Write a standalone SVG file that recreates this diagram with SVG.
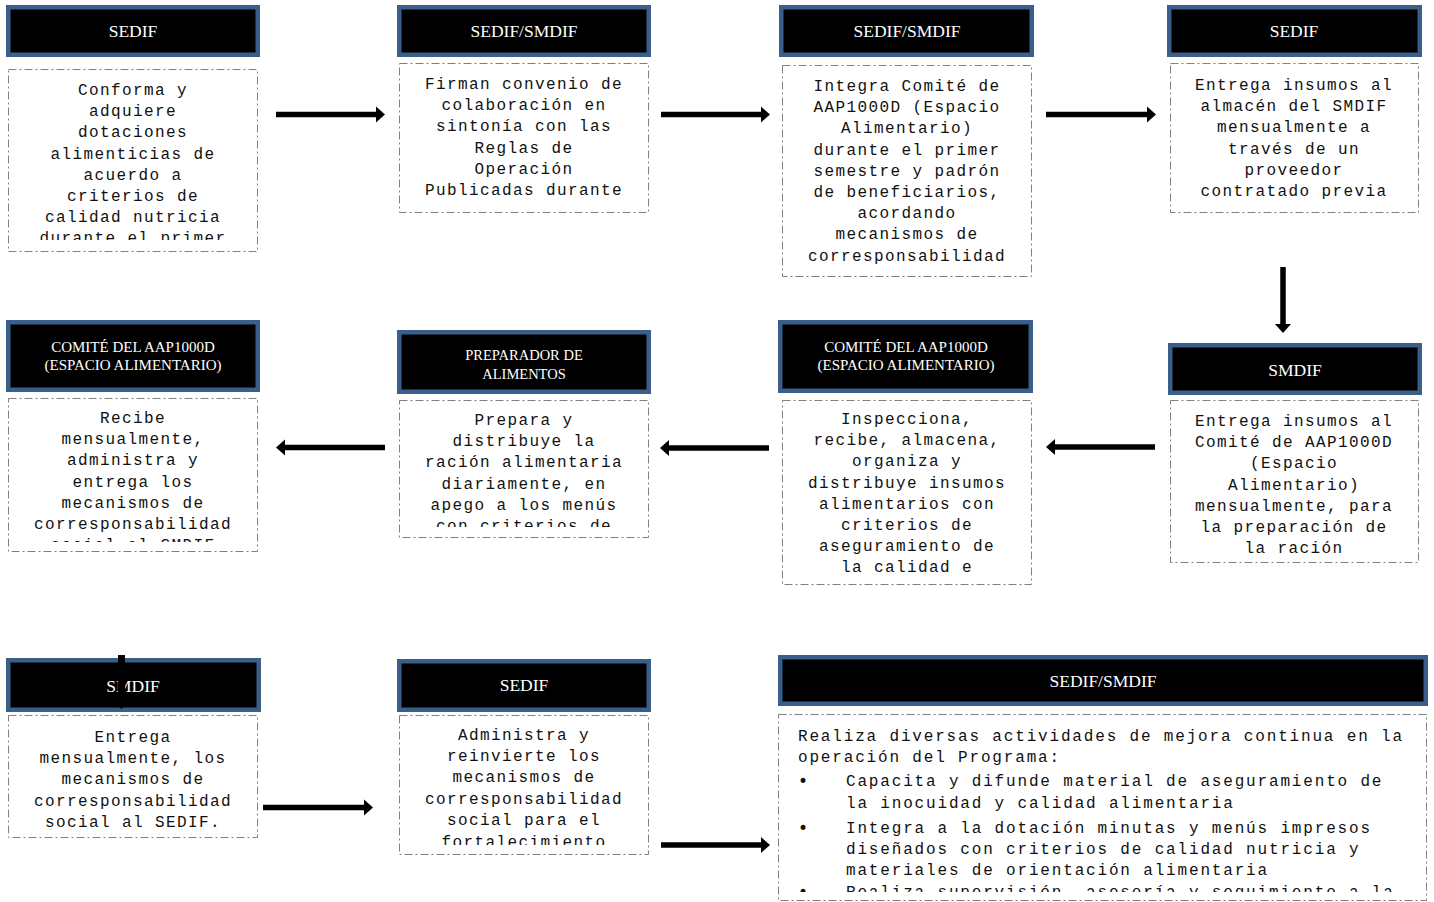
<svg xmlns="http://www.w3.org/2000/svg" width="1434" height="902" viewBox="0 0 1434 902">
<style>
.hd{fill:#000;stroke:#3A5F8B;stroke-width:4.5}
.bd{fill:#fff;stroke:#808080;stroke-width:1;stroke-dasharray:8 3 2 3}
.ht{font-family:"Liberation Serif",serif;fill:#fff;font-size:17.5px;text-anchor:middle}
.hs{font-size:15px}
.hp{font-size:14.5px}
.bt{font-family:"Liberation Mono",monospace;font-size:16px;letter-spacing:1.4px;fill:#111;text-anchor:middle}
.lt{font-family:"Liberation Mono",monospace;font-size:16px;letter-spacing:1.83px;fill:#111}
.bl{font-family:"DejaVu Sans",sans-serif;font-size:17px;letter-spacing:0}
.ar{stroke:#000;stroke-width:5.5;fill:none;marker-end:url(#ah)}
</style>
<defs>
<marker id="ah" markerUnits="userSpaceOnUse" markerWidth="10" markerHeight="16" refX="0" refY="8" orient="auto" overflow="visible">
<path d="M0,0 L9,8 L0,16 Z" fill="#000"/>
</marker>
<marker id="ahs" markerUnits="userSpaceOnUse" markerWidth="8" markerHeight="10" refX="0" refY="5" orient="auto" overflow="visible">
<path d="M0,0 L5,5 L0,10 Z" fill="#000"/>
</marker>
<clipPath id="c1"><rect x="8" y="69" width="250" height="171"/></clipPath>
<clipPath id="c5"><rect x="8" y="398" width="250" height="144"/></clipPath>
<clipPath id="c6"><rect x="399" y="400" width="250" height="127"/></clipPath>
<clipPath id="c10"><rect x="399" y="715" width="250" height="130"/></clipPath>
<clipPath id="c11"><rect x="778" y="714" width="649" height="178"/></clipPath>
</defs>
<rect width="1434" height="902" fill="#fff"/>

<g id="n1">
<rect class="hd" x="8.25" y="7.25" width="249.5" height="47.5"/>
<text class="ht" x="133" y="37">SEDIF</text>
<rect class="bd" x="8.5" y="69.5" width="249" height="182"/>
<text class="bt" clip-path="url(#c1)"><tspan x="133" y="95">Conforma y</tspan><tspan x="133" y="116.2">adquiere</tspan><tspan x="133" y="137.4">dotaciones</tspan><tspan x="133" y="158.6">alimenticias de</tspan><tspan x="133" y="179.8">acuerdo a</tspan><tspan x="133" y="201">criterios de</tspan><tspan x="133" y="222.2">calidad nutricia</tspan><tspan x="133" y="243.4">durante el primer</tspan></text>
</g>

<g id="n2">
<rect class="hd" x="399.25" y="7.25" width="249.5" height="47.5"/>
<text class="ht" x="524" y="37">SEDIF/SMDIF</text>
<rect class="bd" x="399.5" y="63.5" width="249" height="149"/>
<text class="bt"><tspan x="524" y="89">Firman convenio de</tspan><tspan x="524" y="110.2">colaboración en</tspan><tspan x="524" y="131.4">sintonía con las</tspan><tspan x="524" y="152.6">Reglas de</tspan><tspan x="524" y="173.8">Operación</tspan><tspan x="524" y="195">Publicadas durante</tspan></text>
</g>

<g id="n3">
<rect class="hd" x="781.25" y="7.25" width="250.5" height="47.5"/>
<text class="ht" x="907" y="37">SEDIF/SMDIF</text>
<rect class="bd" x="782.5" y="65.5" width="249" height="211"/>
<text class="bt"><tspan x="907" y="91">Integra Comité de</tspan><tspan x="907" y="112.2">AAP1000D (Espacio</tspan><tspan x="907" y="133.4">Alimentario)</tspan><tspan x="907" y="154.6">durante el primer</tspan><tspan x="907" y="175.8">semestre y padrón</tspan><tspan x="907" y="197">de beneficiarios,</tspan><tspan x="907" y="218.2">acordando</tspan><tspan x="907" y="239.4">mecanismos de</tspan><tspan x="907" y="260.6">corresponsabilidad</tspan></text>
</g>

<g id="n4">
<rect class="hd" x="1169.25" y="7.25" width="250.5" height="47.5"/>
<text class="ht" x="1294" y="37">SEDIF</text>
<rect class="bd" x="1170.5" y="63.5" width="248" height="149"/>
<text class="bt"><tspan x="1294" y="90">Entrega insumos al</tspan><tspan x="1294" y="111.2">almacén del SMDIF</tspan><tspan x="1294" y="132.4">mensualmente a</tspan><tspan x="1294" y="153.6">través de un</tspan><tspan x="1294" y="174.8">proveedor</tspan><tspan x="1294" y="196">contratado previa</tspan></text>
</g>

<g id="n5">
<rect class="hd" x="8.25" y="322.25" width="249.5" height="67.5"/>
<text class="ht hs"><tspan x="133" y="351.5">COMITÉ DEL AAP1000D</tspan><tspan x="133" y="369.5">(ESPACIO ALIMENTARIO)</tspan></text>
<rect class="bd" x="8.5" y="398.5" width="249" height="153"/>
<text class="bt" clip-path="url(#c5)"><tspan x="133" y="423">Recibe</tspan><tspan x="133" y="444.2">mensualmente,</tspan><tspan x="133" y="465.4">administra y</tspan><tspan x="133" y="486.6">entrega los</tspan><tspan x="133" y="507.8">mecanismos de</tspan><tspan x="133" y="529">corresponsabilidad</tspan><tspan x="133" y="550.2">social al SMDIF</tspan></text>
</g>

<g id="n6">
<rect class="hd" x="399.25" y="332.25" width="249.5" height="59.5"/>
<text class="ht hp"><tspan x="524" y="360">PREPARADOR DE</tspan><tspan x="524" y="379">ALIMENTOS</tspan></text>
<rect class="bd" x="399.5" y="400.5" width="249" height="137"/>
<text class="bt" clip-path="url(#c6)"><tspan x="524" y="425">Prepara y</tspan><tspan x="524" y="446.2">distribuye la</tspan><tspan x="524" y="467.4">ración alimentaria</tspan><tspan x="524" y="488.6">diariamente, en</tspan><tspan x="524" y="509.8">apego a los menús</tspan><tspan x="524" y="531">con criterios de</tspan></text>
</g>

<g id="n7">
<rect class="hd" x="780.25" y="322.25" width="250.5" height="68.5"/>
<text class="ht hs"><tspan x="906" y="351.5">COMITÉ DEL AAP1000D</tspan><tspan x="906" y="370">(ESPACIO ALIMENTARIO)</tspan></text>
<rect class="bd" x="782.5" y="400.5" width="249" height="184"/>
<text class="bt"><tspan x="907" y="424">Inspecciona,</tspan><tspan x="907" y="445.2">recibe, almacena,</tspan><tspan x="907" y="466.4">organiza y</tspan><tspan x="907" y="487.6">distribuye insumos</tspan><tspan x="907" y="508.8">alimentarios con</tspan><tspan x="907" y="530">criterios de</tspan><tspan x="907" y="551.2">aseguramiento de</tspan><tspan x="907" y="572.4">la calidad e</tspan></text>
</g>

<g id="n8">
<rect class="hd" x="1170.25" y="345.25" width="249.5" height="47.5"/>
<text class="ht" x="1295" y="376">SMDIF</text>
<rect class="bd" x="1170.5" y="400.5" width="248" height="162"/>
<text class="bt"><tspan x="1294" y="426">Entrega insumos al</tspan><tspan x="1294" y="447.2">Comité de AAP1000D</tspan><tspan x="1294" y="468.4">(Espacio</tspan><tspan x="1294" y="489.6">Alimentario)</tspan><tspan x="1294" y="510.8">mensualmente, para</tspan><tspan x="1294" y="532">la preparación de</tspan><tspan x="1294" y="553.2">la ración</tspan></text>
</g>

<g id="n9">
<rect class="hd" x="8.25" y="660.25" width="250.5" height="49.5"/>
<text class="ht" x="133" y="692">SMDIF</text>
<rect class="bd" x="8.5" y="715.5" width="249" height="122"/>
<text class="bt"><tspan x="133" y="742">Entrega</tspan><tspan x="133" y="763.2">mensualmente, los</tspan><tspan x="133" y="784.4">mecanismos de</tspan><tspan x="133" y="805.6">corresponsabilidad</tspan><tspan x="133" y="826.8">social al SEDIF.</tspan></text>
</g>

<g id="n10">
<rect class="hd" x="399.25" y="661.25" width="249.5" height="48.5"/>
<text class="ht" x="524" y="691">SEDIF</text>
<rect class="bd" x="399.5" y="715.5" width="249" height="139"/>
<text class="bt" clip-path="url(#c10)"><tspan x="524" y="740">Administra y</tspan><tspan x="524" y="761.2">reinvierte los</tspan><tspan x="524" y="782.4">mecanismos de</tspan><tspan x="524" y="803.6">corresponsabilidad</tspan><tspan x="524" y="824.8">social para el</tspan><tspan x="524" y="846.5">fortalecimiento</tspan></text>
</g>

<g id="n11">
<rect class="hd" x="780.25" y="657.25" width="645.5" height="46.5"/>
<text class="ht" x="1103" y="687">SEDIF/SMDIF</text>
<rect class="bd" x="778.5" y="714.5" width="648" height="186"/>
<g clip-path="url(#c11)">
<text class="lt"><tspan x="798" y="741">Realiza diversas actividades de mejora continua en la</tspan><tspan x="798" y="762">operación del Programa:</tspan></text>
<text class="lt"><tspan class="bl" x="798" y="787">•</tspan><tspan x="846" y="786">Capacita y difunde material de aseguramiento de</tspan><tspan x="846" y="808">la inocuidad y calidad alimentaria</tspan></text>
<text class="lt"><tspan class="bl" x="798" y="834">•</tspan><tspan x="846" y="833">Integra a la dotación minutas y menús impresos</tspan><tspan x="846" y="853.5">diseñados con criterios de calidad  nutricia y</tspan><tspan x="846" y="875">materiales de orientación alimentaria</tspan></text>
<text class="lt"><tspan class="bl" x="798" y="898">•</tspan><tspan x="846" y="897">Realiza supervisión, asesoría y seguimiento a la</tspan></text>
</g>
</g>

<g id="connectors">
<line class="ar" x1="276" y1="114.5" x2="376" y2="114.5"/>
<line class="ar" x1="661" y1="114.5" x2="761" y2="114.5"/>
<line class="ar" x1="1046" y1="114.5" x2="1147" y2="114.5"/>
<line class="ar" x1="1283" y1="267" x2="1283" y2="324"/>
<line class="ar" x1="1155" y1="447" x2="1055" y2="447"/>
<line class="ar" x1="769" y1="448" x2="669" y2="448"/>
<line class="ar" x1="385" y1="447.5" x2="285" y2="447.5"/>
<line stroke="#000" stroke-width="7" marker-end="url(#ahs)" x1="121.5" y1="655" x2="121.5" y2="704"/>
<line class="ar" x1="263" y1="807.5" x2="364" y2="807.5"/>
<line class="ar" x1="661" y1="845" x2="761" y2="845"/>
</g>
</svg>
